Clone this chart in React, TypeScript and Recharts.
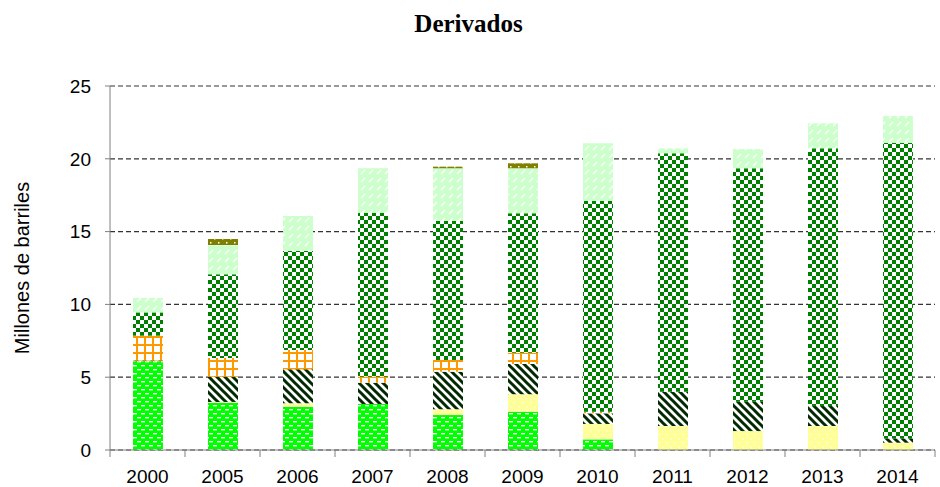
import React from 'react';
import { BarChart, Bar, XAxis, YAxis, CartesianGrid } from 'recharts';

const years = ['2000', '2005', '2006', '2007', '2008', '2009', '2010', '2011', '2012', '2013', '2014'];
const gasolina = [6.1, 3.25, 2.97, 3.16, 2.4, 2.63, 0.73, 0, 0, 0, 0];
const glp = [0, 0.05, 0.24, 0, 0.4, 1.2, 1.06, 1.65, 1.3, 1.65, 0.5];
const kerosene = [0.05, 1.73, 2.33, 1.46, 2.58, 2.08, 0.73, 2.35, 2.02, 1.37, 0.3];
const fuelOil = [1.7, 1.29, 1.33, 0.41, 0.8, 0.77, 0.11, 0, 0, 0, 0];
const diesel = [1.6, 5.75, 6.8, 11.27, 9.55, 9.58, 14.49, 16.38, 16.03, 17.7, 20.3];
const otros = [1.0, 2.01, 2.4, 3.05, 3.62, 3.09, 3.94, 0.34, 1.32, 1.72, 1.84];
const asfalto = [0, 0.41, 0, 0, 0.11, 0.34, 0, 0, 0, 0, 0];
const yTicks = [0, 5, 10, 15, 20, 25];

const data = years.map((year, i) => ({
  year,
  gasolina: gasolina[i],
  glp: glp[i],
  kerosene: kerosene[i],
  fuelOil: fuelOil[i],
  diesel: diesel[i],
  otros: otros[i],
  asfalto: asfalto[i],
}));

const CHART_W = 940;
const CHART_H = 487;
const MARGIN = { top: 86, right: 5, bottom: 7, left: 0 };
const Y_W = 110;
const BAND = (CHART_W - MARGIN.right - MARGIN.left - Y_W) / years.length;

const XTick = (props: any) => {
  const { x, y, payload, index } = props;
  const half = BAND / 2;
  return (
    <g>
      <line x1={x - half} y1={y} x2={x - half} y2={y + 7} stroke="#808080" strokeWidth={1} />
      {index === years.length - 1 && (
        <line x1={x + half} y1={y} x2={x + half} y2={y + 7} stroke="#808080" strokeWidth={1} />
      )}
      <text x={x} y={y + 33} textAnchor="middle" fontSize={19} fill="#000" fontFamily="'Liberation Sans', Arial, sans-serif">
        {payload.value}
      </text>
    </g>
  );
};

export default function App() {
  return (
    <div style={{ position: 'absolute', left: 0, top: 0, width: CHART_W, height: CHART_H, background: '#fff' }}>
      <div
        style={{
          position: 'absolute',
          left: 0,
          top: 11,
          width: 937,
          textAlign: 'center',
          fontFamily: "'Liberation Serif', 'Times New Roman', serif",
          fontWeight: 'bold',
          fontSize: 25,
          lineHeight: '25px',
          color: '#000',
        }}
      >
        Derivados
      </div>
      <BarChart width={CHART_W} height={CHART_H} data={data} margin={MARGIN}>
        <defs>
          <pattern id="pGreen" width="8" height="8" patternUnits="userSpaceOnUse">
            <rect width="8" height="8" fill="#00FF00" />
            <rect x="1" y="1" width="4" height="1.4" fill="#fff" />
            <rect x="5" y="5" width="3" height="1.4" fill="#fff" />
            <rect x="0" y="5" width="1" height="1.4" fill="#fff" />
          </pattern>
          <pattern id="pYellow" width="8" height="8" patternUnits="userSpaceOnUse">
            <rect width="8" height="8" fill="#FFFF99" />
            <rect x="2" y="2" width="1.2" height="1.2" fill="#fff" />
            <rect x="6" y="6" width="1.2" height="1.2" fill="#fff" />
          </pattern>
          <pattern id="pHatch" width="8" height="8" patternUnits="userSpaceOnUse">
            <rect width="8" height="8" fill="#fff" />
            <path d="M-2,-2 L10,10 M-2,6 L2,10 M6,-2 L10,2" stroke="#012a01" strokeWidth="3" />
          </pattern>
          <pattern id="pOrange" width="8" height="8" patternUnits="userSpaceOnUse">
            <rect width="8" height="8" fill="#fff" />
            <rect x="0" y="0" width="2" height="8" fill="#FF9900" />
            <rect x="0" y="0" width="8" height="2" fill="#FF9900" />
          </pattern>
          <pattern id="pChecker" width="8" height="8" patternUnits="userSpaceOnUse">
            <rect width="8" height="8" fill="#fff" />
            <rect x="0" y="0" width="4" height="4" fill="#008000" />
            <rect x="4" y="4" width="4" height="4" fill="#008000" />
          </pattern>
          <pattern id="pLight" width="8" height="8" patternUnits="userSpaceOnUse">
            <rect width="8" height="8" fill="#CCFFCC" />
            <path d="M1,6 L5,2" stroke="#fff" strokeWidth="1.3" />
          </pattern>
          <pattern id="pOlive" width="8" height="8" patternUnits="userSpaceOnUse">
            <rect width="8" height="8" fill="#808000" />
            <rect x="2" y="2" width="1.5" height="1.5" fill="#fff" />
            <rect x="6" y="6" width="1.5" height="1.5" fill="#fff" />
          </pattern>
        </defs>
        <CartesianGrid vertical={false} stroke="#333" strokeDasharray="5 3" strokeWidth={1.2} />
        <XAxis
          dataKey="year"
          height={30}
          tickLine={false}
          tickSize={0}
          tickMargin={0}
          axisLine={{ stroke: '#808080' }}
          tick={<XTick />}
          interval={0}
        />
        <YAxis
          width={Y_W}
          domain={[0, 25]}
          ticks={yTicks}
          interval={0}
          tickSize={5}
          tickMargin={14}
          axisLine={{ stroke: '#808080' }}
          tickLine={{ stroke: '#808080' }}
          tick={{ fontSize: 19, fill: '#000', fontFamily: "'Liberation Sans', Arial, sans-serif" }}
          label={{
            value: 'Millones de barriles',
            angle: -90,
            position: 'insideLeft',
            offset: 22,
            style: { textAnchor: 'middle', fontSize: 20, fill: '#000', fontFamily: "'Liberation Sans', Arial, sans-serif" },
          }}
        />
        <Bar dataKey="gasolina" name="Gasolina" stackId="a" barSize={30} fill="url(#pGreen)" isAnimationActive={false} />
        <Bar dataKey="glp" name="GLP" stackId="a" barSize={30} fill="url(#pYellow)" isAnimationActive={false} />
        <Bar dataKey="kerosene" name="Kerosene" stackId="a" barSize={30} fill="url(#pHatch)" isAnimationActive={false} />
        <Bar dataKey="fuelOil" name="Fuel Oil" stackId="a" barSize={30} fill="url(#pOrange)" isAnimationActive={false} />
        <Bar dataKey="diesel" name="Diesel" stackId="a" barSize={30} fill="url(#pChecker)" isAnimationActive={false} />
        <Bar dataKey="otros" name="Otros" stackId="a" barSize={30} fill="url(#pLight)" isAnimationActive={false} />
        <Bar dataKey="asfalto" name="Asfalto" stackId="a" barSize={30} fill="url(#pOlive)" isAnimationActive={false} />
      </BarChart>
    </div>
  );
}
